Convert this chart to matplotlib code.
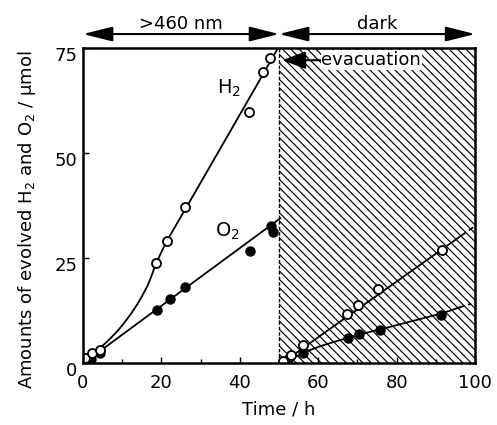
import matplotlib
matplotlib.use("Agg")
import matplotlib.pyplot as plt
import numpy as np
from matplotlib.transforms import ScaledTranslation

plt.rcParams['font.family'] = ['DejaVu Sans']
plt.rcParams['hatch.linewidth'] = 0.85

# ---- data ----
h2_t = [0.5, 2.4, 4.3, 18.5, 21.3, 26.0, 42.4, 45.8, 47.7]
h2_v = [1.1, 2.3, 3.1, 23.8, 29.0, 37.1, 59.7, 69.2, 72.6]
o2_t = [0.5, 2.0, 4.3, 18.8, 22.2, 26.0, 42.6, 47.9, 48.5]
o2_v = [0.3, 1.0, 2.3, 12.6, 15.1, 18.1, 26.6, 32.5, 31.2]

h2d_t = [51.1, 53.0, 56.2, 67.4, 70.2, 75.3, 91.5]
h2d_v = [0.5, 1.9, 4.3, 11.6, 13.8, 17.7, 26.8]
o2d_t = [52.4, 56.2, 67.7, 70.5, 75.8, 91.2]
o2d_v = [0.9, 2.3, 5.9, 6.8, 7.8, 11.4]

# guide curves (knots)
h2_fit_t = [0.5, 2.0, 4.3, 8.6, 12.0, 14.5, 16.7, 18.6, 21.3, 26.0, 35.0, 42.0, 46.0, 49.8]
h2_fit_v = [1.0, 2.0, 3.5, 7.4, 11.4, 15.0, 18.9, 23.5, 28.8, 36.4, 51.0, 62.3, 68.8, 75.0]
o2_fit_t = [0.5, 4.3, 50.3]
o2_fit_v = [0.5, 2.8, 34.4]
h2d_fit_t = [51.5, 96.5]
h2d_fit_v = [0.5, 30.3]
h2d_ext_t = [96.5, 100.0]
h2d_ext_v = [30.3, 32.6]
o2d_fit_t = [53.5, 60.0, 70.0, 80.0, 91.0, 96.0]
o2d_fit_v = [1.2, 3.8, 6.6, 9.0, 11.7, 13.2]
o2d_ext_t = [96.0, 99.0]
o2d_ext_v = [13.2, 14.1]

xticks = [0, 20, 40, 60, 80, 100]
yticks = [0, 25, 50, 75]


def smooth(xs, ys, n=20):
    """Catmull-Rom curve through the given knots (drawing aid only)."""
    p = np.column_stack([xs, ys]).astype(float)
    p = np.vstack([2 * p[0] - p[1], p, 2 * p[-1] - p[-2]])
    out = []
    t = np.linspace(0, 1, n, endpoint=False)[:, None]
    for i in range(1, len(p) - 2):
        p0, p1, p2, p3 = p[i - 1], p[i], p[i + 1], p[i + 2]
        seg = 0.5 * ((2 * p1) + (-p0 + p2) * t + (2 * p0 - 5 * p1 + 4 * p2 - p3) * t ** 2
                     + (-p0 + 3 * p1 - 3 * p2 + p3) * t ** 3)
        out.append(seg)
    out.append(p[-2][None, :])
    out = np.vstack(out)
    return out[:, 0], out[:, 1]


fig = plt.figure(figsize=(4.97, 4.25), dpi=100)
ax = fig.add_axes([0.167, 0.146, 0.789, 0.742])

# hatched dark region
ax.axvspan(50, 100, facecolor='white', edgecolor='black', hatch='\\\\\\\\', linewidth=0, zorder=0)
ax.axvline(50, color='black', linestyle=(0, (2.5, 1.5)), linewidth=1.0, zorder=1)

lw = 1.3
ax.plot(*smooth(h2_fit_t, h2_fit_v), color='black', lw=lw, zorder=2)
ax.plot(o2_fit_t, o2_fit_v, color='black', lw=lw, zorder=2)
ax.plot(h2d_fit_t, h2d_fit_v, color='black', lw=lw, zorder=2)
ax.plot(*smooth(o2d_fit_t, o2d_fit_v), color='black', lw=lw, zorder=2)
ax.plot(h2d_ext_t, h2d_ext_v, color='black', lw=lw, ls=(0, (3, 2)), zorder=2)
ax.plot(o2d_ext_t, o2d_ext_v, color='black', lw=lw, ls=(0, (3, 2)), zorder=2)

ms = 6.5
ax.plot(o2_t, o2_v, 'o', ms=ms, mfc='black', mec='black', zorder=3)
ax.plot(h2_t, h2_v, 'o', ms=ms, mfc='white', mec='black', mew=1.3, zorder=4)
ax.plot(o2d_t, o2d_v, 'o', ms=ms, mfc='black', mec='black', zorder=3)
ax.plot(h2d_t, h2d_v, 'o', ms=ms, mfc='white', mec='black', mew=1.3, zorder=4)

ax.text(37.2, 65.3, 'H$_2$', fontsize=14, ha='center', va='center')
ax.text(36.7, 31.4, 'O$_2$', fontsize=14, ha='center', va='center')

# evacuation annotation
ax.annotate('', xy=(50.8, 72.0), xytext=(60.5, 72.0),
            arrowprops=dict(arrowstyle='-|>,head_length=0.8,head_width=0.3', color='black', lw=1.5,
                            mutation_scale=18, shrinkA=0, shrinkB=0), zorder=5)
ax.text(60.8, 72.0, 'evacuation', fontsize=13, ha='left', va='center',
        bbox=dict(facecolor='white', edgecolor='none', pad=0.5), zorder=5)

# top arrows
for x0, x1, lab in [(0, 50, '>460 nm'), (50, 100, 'dark')]:
    ax.annotate('', xy=(x0, 1.043), xytext=(x1, 1.043),
                xycoords=('data', 'axes fraction'), textcoords=('data', 'axes fraction'),
                arrowprops=dict(arrowstyle='<|-|>,head_length=1.0,head_width=0.25', color='black', lw=1.5,
                                mutation_scale=18, shrinkA=0, shrinkB=0),
                annotation_clip=False)
    ax.text((x0 + x1) / 2, 1.076, lab, transform=ax.get_xaxis_transform(),
            fontsize=13, ha='center', va='center')

ax.set_xlim(0, 100)
ax.set_ylim(0, 75)
ax.set_xticks(xticks)
ax.set_xticks([10, 30, 50, 70, 90], minor=True)
ax.set_yticks(yticks)
ax.tick_params(direction='in', length=4, width=1, labelsize=13)
ax.tick_params(axis='x', pad=8)
ax.tick_params(axis='y', pad=4)
ax.tick_params(which='minor', direction='in', length=3, width=1)
for s in ax.spines.values():
    s.set_linewidth(1.8)
    s.set_zorder(6)

off = ScaledTranslation(0, -6 / 100, fig.dpi_scale_trans)
for lbl in ax.get_yticklabels():
    lbl.set_transform(lbl.get_transform() + off)

fig.text(278.5 / 497, 1 - 410 / 425, 'Time / h', fontsize=13, ha='center', va='center')
fig.text(27 / 497, 1 - 220 / 425, 'Amounts of evolved H$_2$ and O$_2$ / μmol',
         fontsize=13, ha='center', va='center', rotation=90)

fig.savefig('out.png', dpi=100)
